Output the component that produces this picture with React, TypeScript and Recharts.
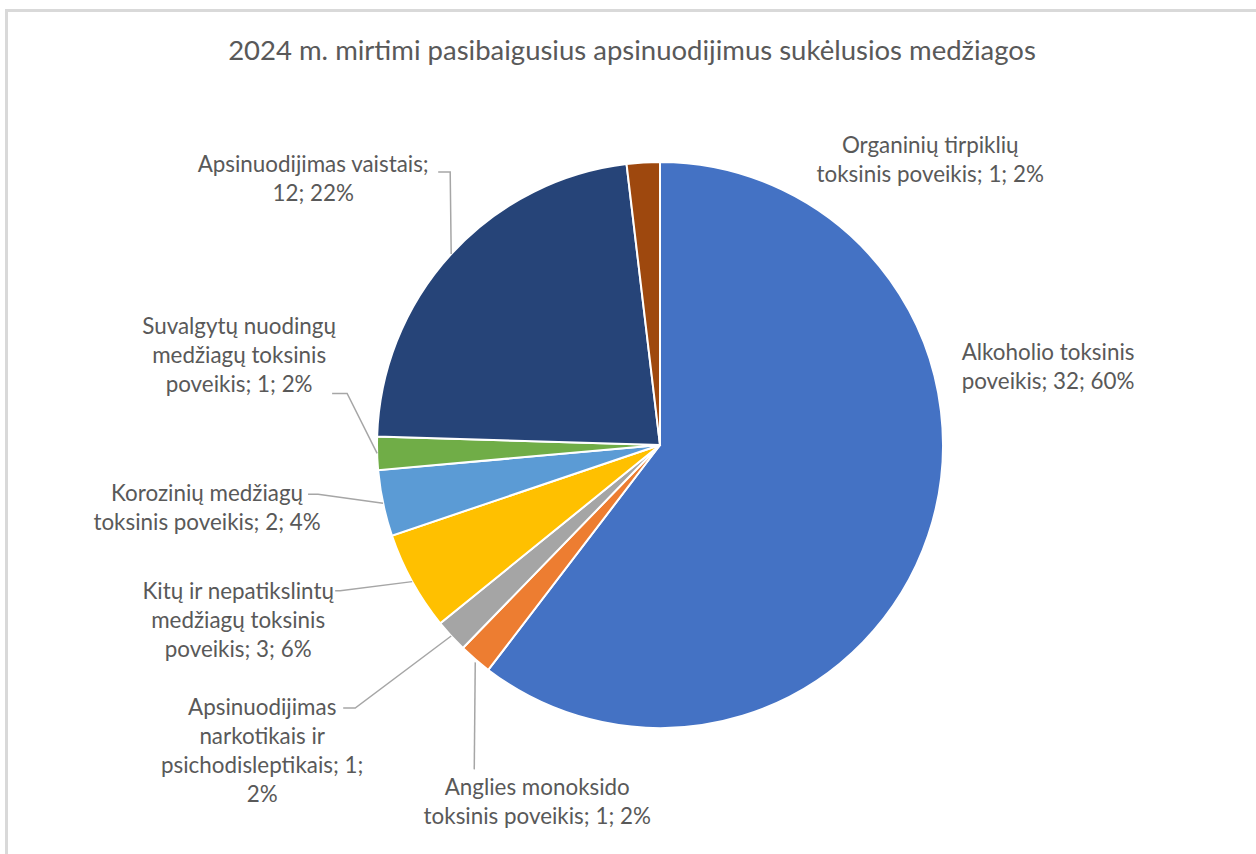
import React from "react";
import { PieChart, Pie, Cell } from "recharts";

const categories = [
  "Alkoholio toksinis poveikis",
  "Anglies monoksido toksinis poveikis",
  "Apsinuodijimas narkotikais ir psichodisleptikais",
  "Kitų ir nepatikslintų medžiagų toksinis poveikis",
  "Korozinių medžiagų toksinis poveikis",
  "Suvalgytų nuodingų medžiagų toksinis poveikis",
  "Apsinuodijimas vaistais",
  "Organinių tirpiklių toksinis poveikis",
];
const deaths = [32, 1, 1, 3, 2, 1, 12, 1];
const colors = ["#4472C4", "#ED7D31", "#A5A5A5", "#FFC000", "#5B9BD5", "#70AD47", "#264478", "#9E480E"];

// label placement relative to the slice's outer mid point: text centre, leader elbow, leader end
const labelLayout = [
  { dx: 120, dy: -170 },
  { dx: 62, dy: 141, elbow: [-1, 110], end: [-1, 110] },
  { dx: -189, dy: 113, elbow: [-96, 72], end: [-108, 72] },
  { dx: -174, dy: 37, elbow: [-72, 9], end: [-77, 9] },
  { dx: -176, dy: 3, elbow: [-65, -9], end: [-75, -9] },
  { dx: -138, dy: -99, elbow: [-30, -60], end: [-45, -60] },
  { dx: -138, dy: -76, elbow: [-1, -82], end: [-13, -82] },
  { dx: 287, dy: -4 },
];

// Excel style percentages (largest remainder so they add up to 100)
const total = deaths.reduce((a, b) => a + b, 0);
const raw = deaths.map((v) => (v / total) * 100);
const pcts = raw.map((r) => Math.floor(r));
const missing = 100 - pcts.reduce((a, b) => a + b, 0);
raw
  .map((r, i) => ({ i, rem: r - Math.floor(r) }))
  .sort((a, b) => b.rem - a.rem)
  .slice(0, missing)
  .forEach(({ i }) => (pcts[i] += 1));

const data = categories.map((name, i) => ({ name, value: deaths[i], pct: pcts[i] }));

const wrap = (s: string, max: number) => {
  const lines: string[] = [];
  let cur = "";
  s.split(" ").forEach((w) => {
    if (cur && (cur + " " + w).length > max) {
      lines.push(cur);
      cur = w;
    } else cur = cur ? cur + " " + w : w;
  });
  if (cur) lines.push(cur);
  return lines;
};

const FONT = "Lato, sans-serif";
const RAD = Math.PI / 180;

const renderLabel = (props: any) => {
  const { cx, cy, midAngle, outerRadius, index } = props;
  const d = data[index];
  const ax = cx + outerRadius * Math.cos(-midAngle * RAD);
  const ay = cy + outerRadius * Math.sin(-midAngle * RAD);
  const lay: any = labelLayout[index];
  const lines = wrap(`${d.name}; ${d.value}; ${d.pct}%`, 24);
  const lh = 29;
  const tx = ax + lay.dx;
  const ty = ay + lay.dy - ((lines.length - 1) * lh) / 2;
  return (
    <g key={`lbl-${index}`}>
      {lay.elbow && (
        <polyline
          points={`${ax},${ay + (index === 1 ? 3 : 0)} ${ax + lay.elbow[0]},${ay + lay.elbow[1]} ${ax + lay.end[0]},${ay + lay.end[1]}`}
          fill="none"
          stroke="#A6A6A6"
          strokeWidth={1.5}
        />
      )}
      <text x={tx} y={ty} textAnchor="middle" dominantBaseline="central" fill="#595959" fontFamily={FONT} fontSize={22.4}>
        {lines.map((l, k) => (
          <tspan key={k} x={tx} dy={k === 0 ? 0 : lh}>
            {l}
          </tspan>
        ))}
      </text>
    </g>
  );
};

export default function App() {
  return (
    <div style={{ position: "fixed", left: 0, top: 0, width: 1256, height: 854, overflow: "hidden", background: "#fff" }}>
      <div
        style={{
          position: "absolute",
          left: 5,
          top: 9,
          width: 1400,
          height: 1000,
          border: "3px solid #D9D9D9",
        }}
      />
      <div
        style={{
          position: "absolute",
          left: 0,
          top: 32,
          width: 1264,
          textAlign: "center",
          fontFamily: FONT,
          fontSize: 27.5,
          lineHeight: "36px",
          color: "#595959",
        }}
      >
        2024 m. mirtimi pasibaigusius apsinuodijimus sukėlusios medžiagos
      </div>
      <div style={{ position: "absolute", left: 0, top: 0 }}>
        <PieChart width={1256} height={854} margin={{ top: 0, right: 0, bottom: 0, left: 0 }}>
          <Pie
            data={data}
            dataKey="value"
            nameKey="name"
            cx={660}
            cy={445}
            outerRadius={283}
            startAngle={90}
            endAngle={-270}
            stroke="#fff"
            strokeWidth={2}
            label={renderLabel}
            labelLine={false}
            isAnimationActive={false}
          >
            {data.map((d, i) => (
              <Cell key={d.name} fill={colors[i]} />
            ))}
          </Pie>
        </PieChart>
      </div>
    </div>
  );
}
